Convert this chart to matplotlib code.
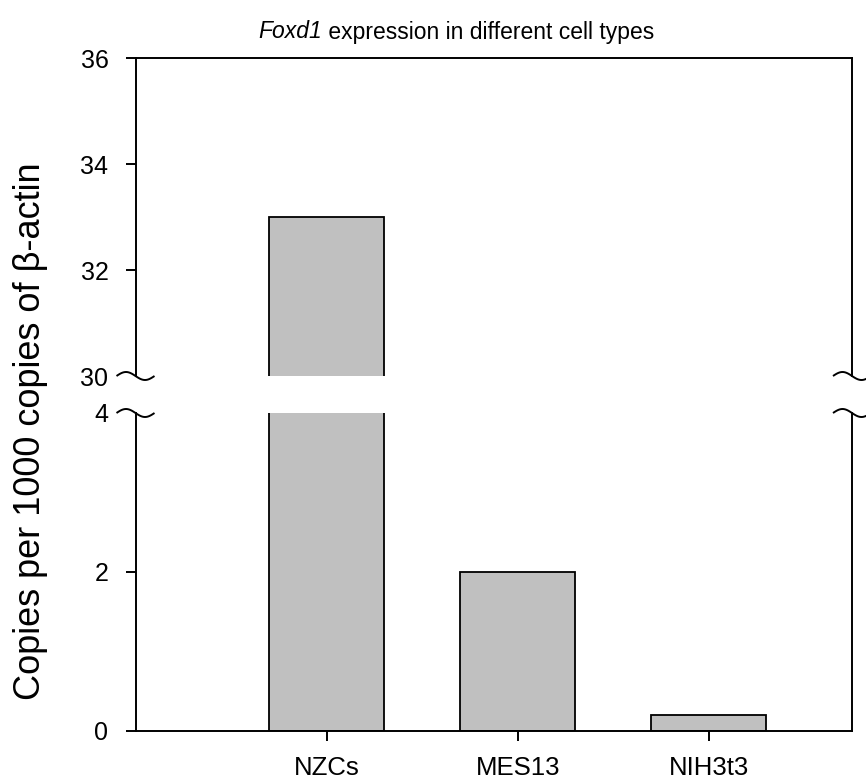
import numpy as np
import matplotlib
matplotlib.use("Agg")
import matplotlib.pyplot as plt

categories = ["NZCs", "MES13", "NIH3t3"]
values = [33.0, 2.0, 0.2]
top_ticks = [30, 32, 34, 36]
bottom_ticks = [0, 2, 4]

plt.rcParams['font.family'] = ['Liberation Sans', 'DejaVu Sans']

W, H = 866, 783
fig = plt.figure(figsize=(W / 100, H / 100), dpi=100)

left_px, right_px = 135.5, 852
def fx(p): return p / W
def fy(p): return 1 - p / H

ax_top = fig.add_axes([fx(left_px), fy(376), fx(right_px) - fx(left_px), fy(58.3) - fy(376)])
ax_bot = fig.add_axes([fx(left_px), fy(730.7), fx(right_px) - fx(left_px), fy(413) - fy(730.7)])

x = np.arange(1, len(categories) + 1)
lw = 1.4
for ax in (ax_top, ax_bot):
    ax.bar(x, values, width=0.6, color='#c0c0c0', edgecolor='black', linewidth=1.3)
    ax.set_xlim(0, 3.75)
    for s in ax.spines.values():
        s.set_linewidth(lw)
    ax.tick_params(axis='y', direction='out', length=7, width=lw, labelsize=18, pad=12.5, right=False)

ax_top.set_ylim(30, 36)
ax_top.set_yticks(top_ticks)
ax_top.spines['bottom'].set_visible(False)
ax_top.tick_params(axis='x', bottom=False, labelbottom=False)
ax_top.yaxis.get_major_ticks()[0].tick1line.set_visible(False)

ax_bot.set_ylim(0, 4)
ax_bot.set_yticks(bottom_ticks)
ax_bot.spines['top'].set_visible(False)
ax_bot.set_xticks(x)
ax_bot.set_xticklabels(categories)
ax_bot.tick_params(axis='x', direction='out', length=7, width=lw, labelsize=18.5, pad=11)
ax_bot.yaxis.get_major_ticks()[-1].tick1line.set_visible(False)

# break marks (tildes)
half_w = 19.0
amp = 4.0
t = np.linspace(-half_w, half_w, 60)
ys = amp * np.sin(np.pi * t / half_w)
for ax, ypos in ((ax_top, 0.0), (ax_bot, 1.0)):
    bb = ax.get_position()
    axw = bb.width * W
    axh = bb.height * H
    for xpos in (0.0, 1.0):
        ax.plot(xpos + t / axw, ypos - ys / axh, color='black', lw=lw,
                transform=ax.transAxes, clip_on=False, solid_capstyle='butt')

# title: italic gene name followed by plain text
t1 = fig.text(fx(258), fy(32), "Foxd1", style='italic', ha='left', va='center', fontsize=16.5)
fig.canvas.draw()
r = fig.canvas.get_renderer()
ext = t1.get_window_extent(renderer=r)
fig.text(ext.x1 / W, fy(32), " expression in different cell types", ha='left', va='center', fontsize=16.5)

fig.text(fx(31), fy(431), "Copies per 1000 copies of β-actin", rotation=90,
         ha='center', va='center', fontsize=26)

fig.savefig("out.png", dpi=100)
